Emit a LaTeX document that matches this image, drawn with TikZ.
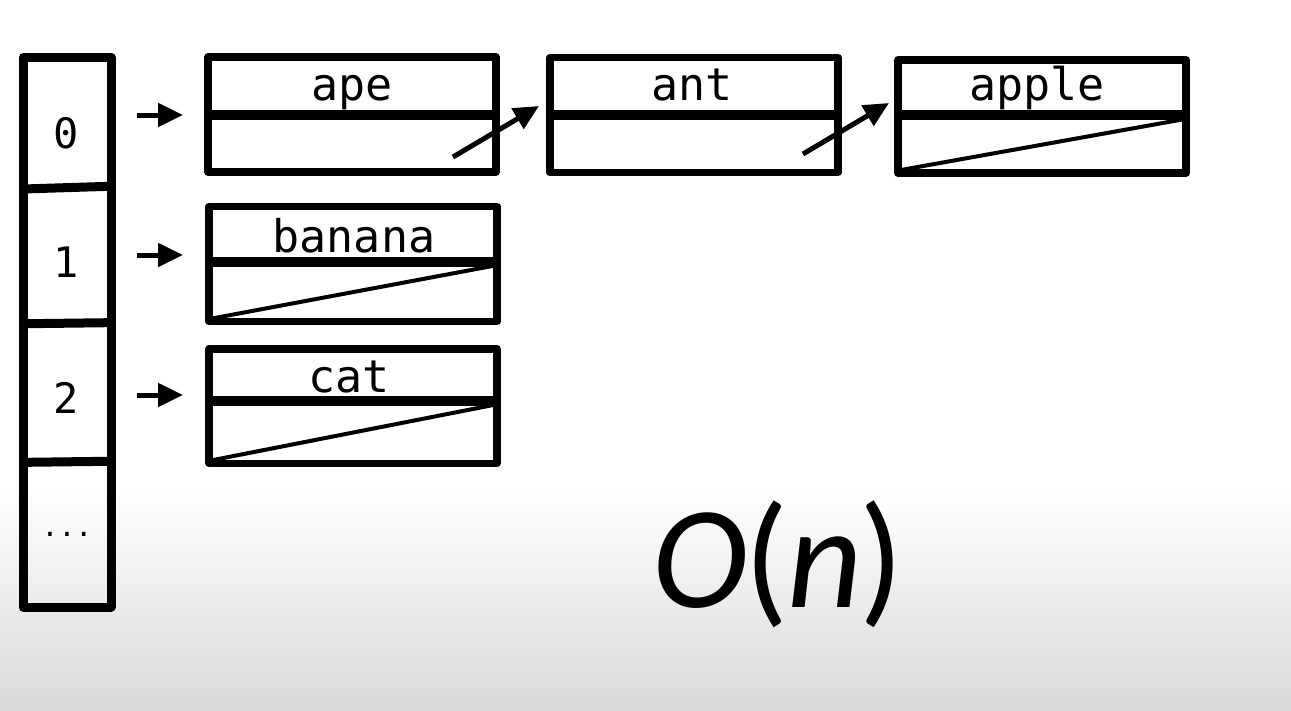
\documentclass[tikz,border=0pt]{standalone}
\usepackage{fontspec}
\setmonofont{DejaVu Sans Mono}
\newfontfamily\bigfont{Carlito}
\usetikzlibrary{arrows.meta,calc}
\tikzset{
  cellbox/.style={draw, line width=9pt, inner sep=0pt, outer sep=0pt, line join=round},
  listbox/.style={draw, line width=7.5pt, inner sep=0pt, outer sep=0pt, line join=round, minimum width=288pt, minimum height=115pt},
  divline/.style={line width=10pt},
  nullline/.style={line width=4pt},
  ptr/.style={line width=5pt, -{Triangle[length=25pt,width=23pt]}},
  lbl/.style={font=\ttfamily\fontsize{45}{50}\selectfont, anchor=base, inner sep=0pt},
  idx/.style={font=\ttfamily\fontsize{42}{46}\selectfont, inner sep=0pt},
}
\begin{document}
\begin{tikzpicture}[x=1pt,y=-1pt]
\useasboundingbox (0,0) rectangle (1291,710);
\fill[white] (0,0) rectangle (1291,490);
\shade[top color=white, bottom color=black!15] (0,490) rectangle (1291,710);

% array
\node[cellbox, minimum width=88pt, minimum height=550pt] (arr) at (67,332) {};
\draw[line width=9pt] ($(arr.north west)!0.24!(arr.south west)$) -- ($(arr.north east)!0.235!(arr.south east)$);
\draw[line width=9pt] ($(arr.north west)!0.485!(arr.south west)$) -- ($(arr.north east)!0.483!(arr.south east)$);
\draw[line width=9pt] ($(arr.north west)!0.737!(arr.south west)$) -- ($(arr.north east)!0.735!(arr.south east)$);
\node[idx] (i0) at (66,133) {0};
\node[idx] (i1) at (66,262) {1};
\node[idx] (i2) at (66,398) {2};
\node[font=\ttfamily\fontsize{28}{30}\selectfont, inner sep=0pt] (idots) at (67,534) {...};

% list boxes
\node[listbox] (ape) at (352,114.5) {};
\node[listbox] (ant) at (694,115) {};
\node[listbox, minimum height=113pt] (apple) at (1042,116.5) {};
\node[listbox] (banana) at (353,264) {};
\node[listbox, minimum height=114.5pt] (cat) at (353,406) {};

\foreach \b/\f in {ape/0.5, ant/0.5, apple/0.49, banana/0.48, cat/0.455}{
  \draw[divline] ($(\b.north west)!\f!(\b.south west)$) coordinate (\b-dl) -- ($(\b.north east)!\f!(\b.south east)$) coordinate (\b-dr);
}
\foreach \b in {apple, banana, cat}{
  \draw[nullline] ([shift={(3,-3)}]\b.south west) -- ([shift={(-3,4)}]\b-dr);
}

\node[lbl] (tape) at (352,100) {ape};
\node[lbl] (tant) at (692,100) {ant};
\node[lbl] (tapple) at (1037,100) {apple};
\node[lbl] (tbanana) at (354,252) {banana};
\node[lbl] (tcat) at (349,392) {cat};

% pointers
\coordinate (s0) at (137,115);
\coordinate (e0) at (183,115);
\coordinate (s1) at (137,255);
\coordinate (e1) at (183,255);
\coordinate (s2) at (137,395);
\coordinate (e2) at (183,395);
\draw[ptr] (s0) -- (e0);
\draw[ptr] (s1) -- (e1);
\draw[ptr] (s2) -- (e2);

\coordinate (p1) at (453,157);
\coordinate (q1) at (539,106);
\coordinate (p2) at (803,154);
\coordinate (q2) at (889,103);
\draw[ptr] (p1) -- (q1);
\draw[ptr] (p2) -- (q2);

\node[font=\bigfont\fontsize{146}{150}\selectfont, anchor=base, inner sep=0pt] (on) at (778,607) {\itshape O\kern-3pt\upshape(\kern-2pt\itshape n\kern-3pt\upshape)};
\end{tikzpicture}
\end{document}
